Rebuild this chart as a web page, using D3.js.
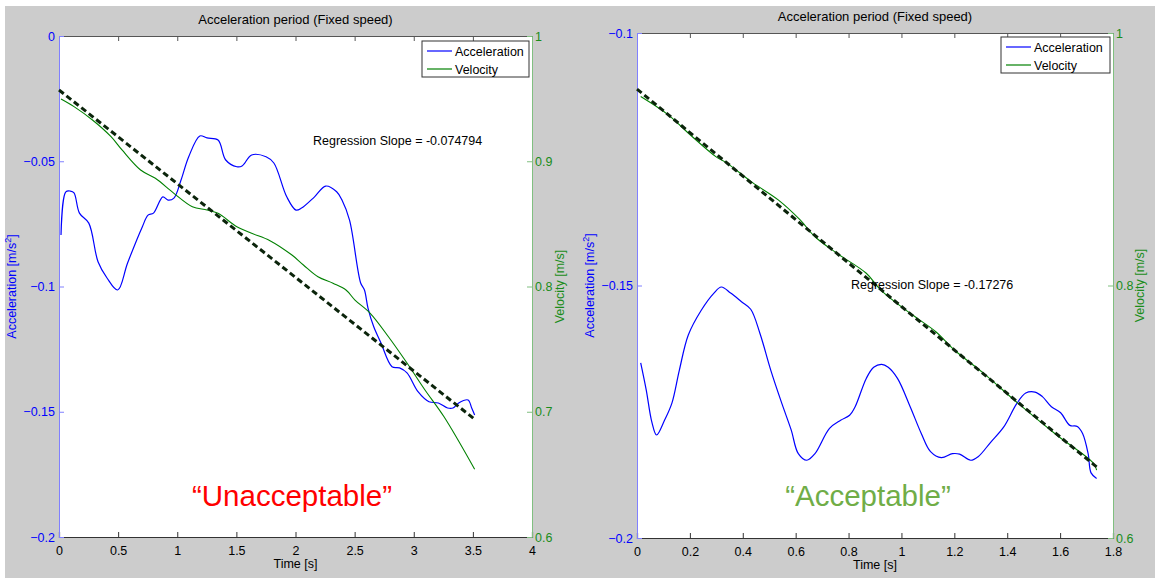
<!DOCTYPE html>
<html>
<head>
<meta charset="utf-8">
<script src="https://cdn.jsdelivr.net/npm/d3@7"></script>
<style>
  html, body { margin: 0; padding: 0; background: #ffffff; }
  svg { display: block; }
  text { font-family: "Liberation Sans", Arial, sans-serif; }
</style>
</head>
<body>
<svg id="chart" width="1155" height="578"></svg>
<script>
// ---------------- DATA ----------------
const titleText = "Acceleration period (Fixed speed)";

// Left panel ("Unacceptable")
const leftTime = [0.017,0.058,0.096,0.127,0.173,0.252,0.330,0.406,0.496,0.580,0.705,0.753,0.799,0.878,0.922,0.972,1.032,1.097,1.191,1.252,1.345,1.410,1.504,1.548,1.629,1.751,1.817,1.926,2.004,2.051,2.161,2.255,2.348,2.393,2.457,2.551,2.583,2.613,2.661,2.723,2.816,2.880,2.943,3.036,3.129,3.208,3.286,3.332,3.380,3.459,3.490,3.515];
const leftAccel = [-0.0794,-0.0622,-0.0619,-0.0626,-0.0707,-0.0747,-0.0901,-0.0966,-0.1014,-0.0906,-0.0761,-0.0715,-0.0707,-0.0642,-0.0655,-0.0647,-0.0575,-0.0482,-0.0399,-0.0407,-0.0415,-0.0495,-0.0522,-0.0519,-0.0475,-0.0482,-0.0507,-0.0642,-0.0695,-0.0687,-0.0642,-0.0599,-0.0622,-0.0655,-0.0735,-0.0986,-0.1014,-0.1086,-0.1160,-0.1226,-0.1320,-0.1325,-0.1345,-0.1420,-0.1460,-0.1465,-0.1485,-0.1485,-0.1465,-0.1453,-0.1485,-0.1513];
const leftVelTime = [0.017,0.127,0.283,0.440,0.533,0.690,0.815,0.972,1.128,1.252,1.345,1.504,1.629,1.784,1.970,2.067,2.190,2.317,2.427,2.503,2.630,2.786,2.943,3.095,3.256,3.515];
const leftVel = [0.9497,0.9436,0.9329,0.9196,0.9090,0.8930,0.8864,0.8744,0.8637,0.8611,0.8584,0.8477,0.8425,0.8366,0.8251,0.8172,0.8078,0.8026,0.7972,0.7892,0.7788,0.7599,0.7389,0.7174,0.6960,0.6541];
const leftRegTime = [0, 3.515];
const leftRegVel = [0.9569, 0.6940];
const leftSlopeLabel = "Regression Slope = -0.074794";
const leftVerdict = "\u201CUnacceptable\u201D";
const leftXTicks = [0, 0.5, 1, 1.5, 2, 2.5, 3, 3.5, 4];
const leftAccTicks = [-0.2, -0.15, -0.1, -0.05, 0];
const leftVelTicks = [0.6, 0.7, 0.8, 0.9, 1];

// Right panel ("Acceptable")
const rightTime = [0.014,0.035,0.056,0.074,0.104,0.132,0.160,0.194,0.243,0.291,0.319,0.354,0.395,0.430,0.465,0.506,0.548,0.583,0.610,0.642,0.673,0.728,0.770,0.804,0.825,0.867,0.895,0.925,0.950,0.985,1.033,1.075,1.110,1.151,1.193,1.220,1.262,1.290,1.338,1.387,1.436,1.470,1.505,1.533,1.567,1.602,1.637,1.665,1.685,1.706,1.717,1.738];
const rightAccel = [-0.1653,-0.1707,-0.1770,-0.1796,-0.1767,-0.1733,-0.1668,-0.1598,-0.1549,-0.1515,-0.1503,-0.1515,-0.1532,-0.1547,-0.1595,-0.1668,-0.1734,-0.1786,-0.1833,-0.1846,-0.1833,-0.1783,-0.1767,-0.1757,-0.1740,-0.1684,-0.1662,-0.1656,-0.1662,-0.1684,-0.1740,-0.1793,-0.1829,-0.1841,-0.1833,-0.1834,-0.1846,-0.1839,-0.1810,-0.1780,-0.1734,-0.1713,-0.1711,-0.1720,-0.1740,-0.1752,-0.1777,-0.1779,-0.1793,-0.1833,-0.1871,-0.1882];
const rightVelTime = [0.014,0.118,0.201,0.298,0.340,0.437,0.534,0.617,0.673,0.756,0.867,0.922,1.033,1.130,1.200,1.311,1.449,1.588,1.727,1.738];
const rightVel = [0.9497,0.9352,0.9194,0.9021,0.8969,0.8815,0.8678,0.8519,0.8386,0.8255,0.8097,0.7964,0.7780,0.7634,0.7489,0.7304,0.7052,0.6814,0.6590,0.6537];
const rightRegTime = [0, 1.738];
const rightRegVel = [0.9556, 0.6563];
const rightSlopeLabel = "Regression Slope = -0.17276";
const rightVerdict = "\u201CAcceptable\u201D";
const rightXTicks = [0, 0.2, 0.4, 0.6, 0.8, 1, 1.2, 1.4, 1.6, 1.8];
const rightAccTicks = [-0.2, -0.15, -0.1];
const rightVelTicks = [0.6, 0.8, 1];

const legendLabels = ["Acceleration", "Velocity"];

// ---------------- DRAW ----------------
const svg = d3.select("#chart");
const BLUE = "#0000ff", GREEN = "#008000";
const FONT = "Liberation Sans, Arial, sans-serif";

svg.append("rect").attr("x", 5).attr("y", 6).attr("width", 1150).attr("height", 572).attr("fill", "#cccccc");

function drawPanel(p) {
  const g = svg.append("g");
  const x = d3.scaleLinear().domain(p.xDomain).range([p.left, p.right]);
  const yA = d3.scaleLinear().domain(p.accDomain).range([p.bottom, p.top]);
  const yV = d3.scaleLinear().domain(p.velDomain).range([p.bottom, p.top]);

  g.append("rect").attr("x", p.left).attr("y", p.top)
    .attr("width", p.right - p.left).attr("height", p.bottom - p.top).attr("fill", "#ffffff");

  // title
  g.append("text").attr("x", (p.left + p.right) / 2).attr("y", p.top - 12)
    .attr("text-anchor", "middle").attr("font-size", 13).attr("fill", "#000").text(titleText);

  // x axis bottom & top
  const xb = d3.axisBottom(x).tickValues(p.xTicks).tickSize(-5).tickPadding(9).tickFormat(d3.format("~g"));
  const gx = g.append("g").attr("transform", `translate(0,${p.bottom})`).call(xb);
  gx.select(".domain").attr("stroke", "#333").attr("stroke-width", 1.2);
  gx.selectAll(".tick line").attr("stroke", "#333");
  gx.selectAll("text").attr("font-size", 12.5).attr("fill", "#000").attr("font-family", FONT);
  const xt = d3.axisTop(x).tickValues(p.xTicks).tickSize(-5).tickFormat("");
  const gxt = g.append("g").attr("transform", `translate(0,${p.top})`).call(xt);
  gxt.select(".domain").attr("stroke", "#555");
  gxt.selectAll(".tick line").attr("stroke", "#555");

  // left y axis (acceleration)
  const ya = d3.axisLeft(yA).tickValues(p.accTicks).tickSize(-5).tickPadding(4).tickFormat(d3.format("~g"));
  const gya = g.append("g").attr("transform", `translate(${p.left},0)`).call(ya);
  gya.select(".domain").attr("stroke", "#8080ff");
  gya.selectAll(".tick line").attr("stroke", "#8080ff");
  gya.selectAll("text").attr("font-size", 12.5).attr("fill", BLUE).attr("font-family", FONT);

  // right y axis (velocity)
  const yv = d3.axisRight(yV).tickValues(p.velTicks).tickSize(-5).tickPadding(3).tickFormat(d3.format("~g"));
  const gyv = g.append("g").attr("transform", `translate(${p.right},0)`).call(yv);
  gyv.select(".domain").attr("stroke", "#80bf80");
  gyv.selectAll(".tick line").attr("stroke", "#80bf80");
  gyv.selectAll("text").attr("font-size", 12.5).attr("fill", "#1a8c1a").attr("font-family", FONT);

  // axis labels
  g.append("text").attr("x", (p.left + p.right) / 2).attr("y", p.bottom + 31)
    .attr("text-anchor", "middle").attr("font-size", 12.5).attr("fill", "#000").text("Time [s]");
  const al = g.append("text")
    .attr("transform", `translate(${p.left - p.accLabelOff},${(p.top + p.bottom) / 2}) rotate(-90)`)
    .attr("text-anchor", "middle").attr("font-size", 12.5).attr("fill", BLUE);
  al.append("tspan").text("Acceleration [m/s");
  al.append("tspan").attr("dy", -5).attr("font-size", 9).text("2");
  al.append("tspan").attr("dy", 5).text("]");
  g.append("text")
    .attr("transform", `translate(${p.right + p.velLabelOff},${(p.top + p.bottom) / 2}) rotate(-90)`)
    .attr("text-anchor", "middle").attr("font-size", 12.5).attr("fill", "#1a8c1a").text("Velocity [m/s]");

  // lines
  const accData = p.accT.map((t, i) => [t, p.acc[i]]);
  const velData = p.velT.map((t, i) => [t, p.vel[i]]);
  const regData = p.regT.map((t, i) => [t, p.reg[i]]);
  const lineA = d3.line().x(d => x(d[0])).y(d => yA(d[1])).curve(d3.curveCatmullRom.alpha(0.5));
  const lineV = d3.line().x(d => x(d[0])).y(d => yV(d[1])).curve(d3.curveCatmullRom.alpha(0.5));
  const lineR = d3.line().x(d => x(d[0])).y(d => yV(d[1]));

  g.append("path").attr("d", lineA(accData)).attr("fill", "none").attr("stroke", BLUE).attr("stroke-width", 1.2);
  g.append("path").attr("d", lineV(velData)).attr("fill", "none").attr("stroke", GREEN).attr("stroke-width", 1.1);
  g.append("path").attr("d", lineR(regData)).attr("fill", "none").attr("stroke", "#0b240b")
    .attr("stroke-width", 3).attr("stroke-dasharray", "6,3.5");

  // slope label
  g.append("text").attr("x", p.slopeX).attr("y", p.slopeY).attr("font-size", 12.5).attr("fill", "#000").text(p.slopeLabel);

  // verdict
  g.append("text").attr("x", p.verdictX).attr("y", p.verdictY).attr("text-anchor", "middle")
    .attr("font-family", "Lato, 'Open Sans', sans-serif").attr("font-size", 29.5)
    .attr("fill", p.verdictColor).text(p.verdict);

  // legend
  const lg = g.append("g");
  lg.append("rect").attr("x", p.legX).attr("y", p.legY).attr("width", p.legW).attr("height", 36)
    .attr("fill", "#fff").attr("stroke", "#333").attr("stroke-width", 1);
  legendLabels.forEach((lab, i) => {
    const yy = p.legY + 10 + i * 18;
    lg.append("line").attr("x1", p.legX + 5).attr("x2", p.legX + 30).attr("y1", yy).attr("y2", yy)
      .attr("stroke", i === 0 ? BLUE : GREEN).attr("stroke-width", 1.2);
    lg.append("text").attr("x", p.legX + 33).attr("y", yy + 4.5).attr("font-size", 12.5).attr("fill", "#000").text(lab);
  });
}

drawPanel({
  left: 59, right: 532, top: 36, bottom: 537,
  xDomain: [0, 4], accDomain: [-0.2, 0], velDomain: [0.6, 1],
  xTicks: leftXTicks, accTicks: leftAccTicks, velTicks: leftVelTicks,
  accT: leftTime, acc: leftAccel, velT: leftVelTime, vel: leftVel,
  regT: leftRegTime, reg: leftRegVel,
  slopeLabel: leftSlopeLabel, slopeX: 313, slopeY: 145,
  verdict: leftVerdict, verdictColor: "#ff0000", verdictX: 292, verdictY: 506,
  legX: 422, legY: 41, legW: 107,
  accLabelOff: 43, velLabelOff: 32
});

drawPanel({
  left: 637, right: 1113, top: 33, bottom: 538,
  xDomain: [0, 1.8], accDomain: [-0.2, -0.1], velDomain: [0.6, 1],
  xTicks: rightXTicks, accTicks: rightAccTicks, velTicks: rightVelTicks,
  accT: rightTime, acc: rightAccel, velT: rightVelTime, vel: rightVel,
  regT: rightRegTime, reg: rightRegVel,
  slopeLabel: rightSlopeLabel, slopeX: 851, slopeY: 289,
  verdict: rightVerdict, verdictColor: "#70ad47", verdictX: 868, verdictY: 506,
  legX: 1001, legY: 37, legW: 109,
  accLabelOff: 43, velLabelOff: 31
});
</script>
</body>
</html>
